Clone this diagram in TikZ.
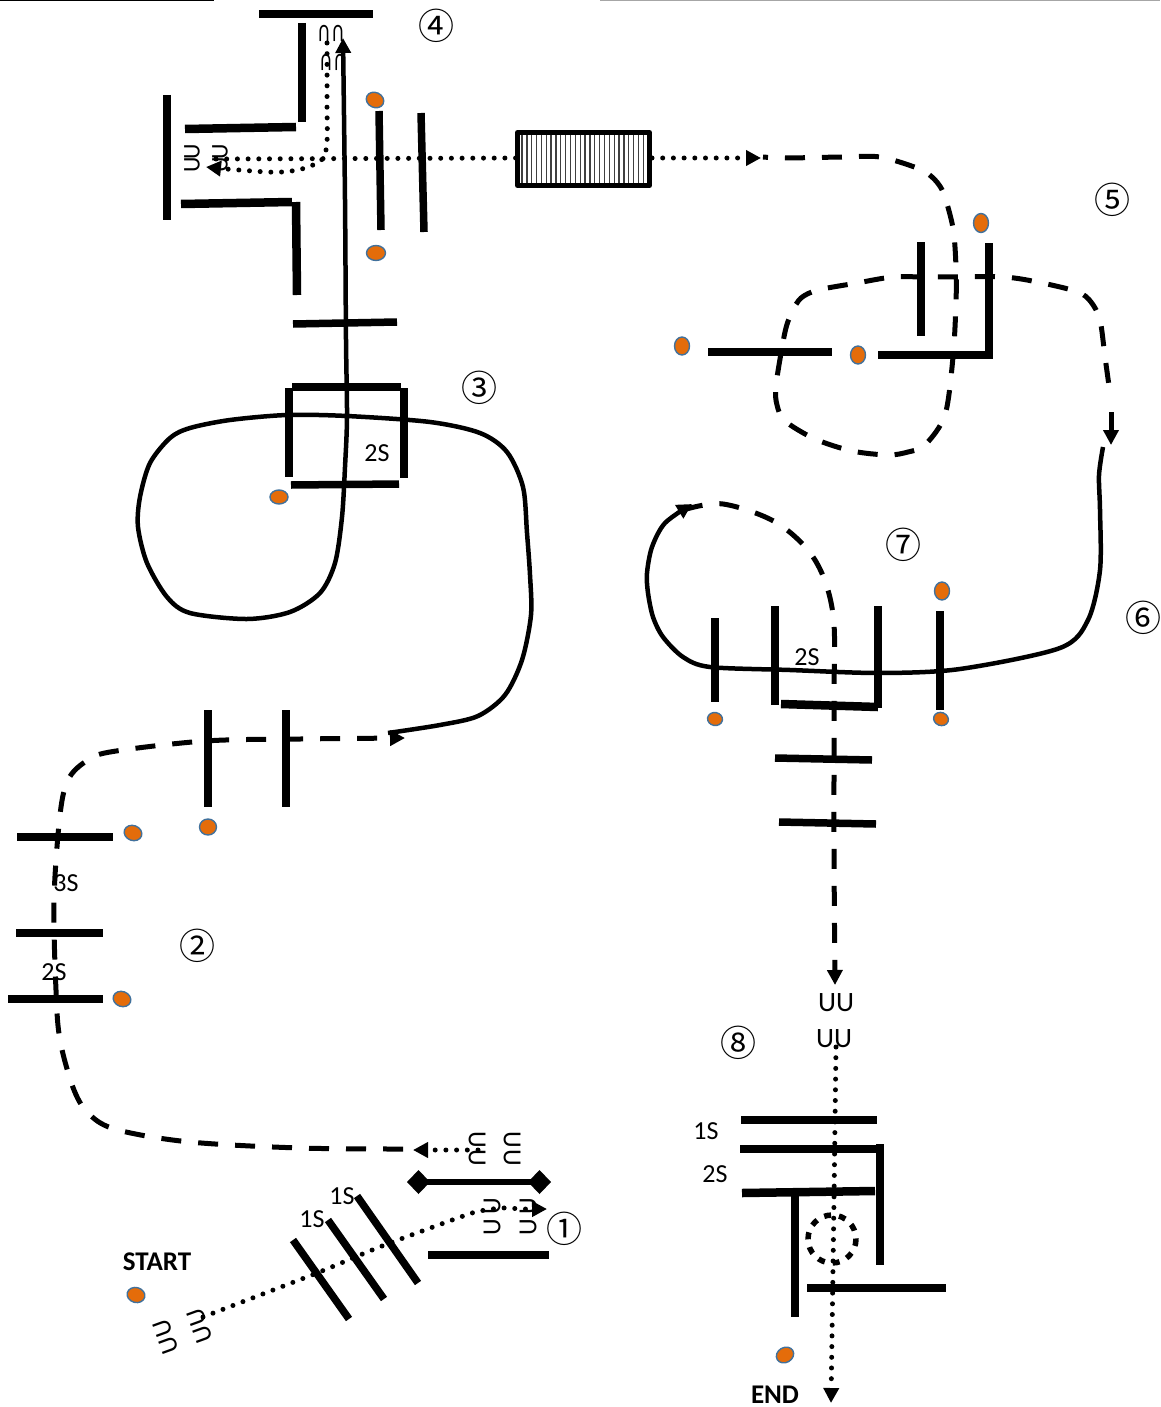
\documentclass[tikz,border=0pt]{standalone}
\usepackage{fontspec}
\setmainfont{Carlito}
\newfontfamily\circfont{Noto Sans CJK JP}
\usetikzlibrary{arrows.meta,shapes.geometric}
\tikzset{
  bar/.style={line width=7.5pt,line cap=butt},
  hbar/.style={line width=8.5pt,line cap=butt},
  solidpath/.style={line width=4.5pt},
  dashpath/.style={line width=5pt,dash pattern=on 20pt off 17pt},
  dotpath/.style={line width=5pt,line cap=round,dash pattern=on 0pt off 10.7pt},
  tip/.style={-{Triangle[length=15pt,width=15pt]}},
  dot/.style={ellipse,minimum width=18pt,minimum height=15pt,inner sep=0pt,fill=orange1,draw=blue1,line width=1.4pt},
  lab/.style={font=\fontsize{26}{26}\selectfont,inner sep=0pt},
  ulab/.style={font=\fontsize{28}{28}\selectfont,inner sep=0pt},
  blab/.style={font=\fontsize{27}{27}\selectfont\bfseries,inner sep=0pt},
  num/.style={font=\fontsize{36}{36}\selectfont\circfont,inner sep=0pt},
  uu/.style={font=\fontsize{26}{26}\selectfont,inner sep=0pt},
}
\definecolor{orange1}{HTML}{E46C0A}
\definecolor{blue1}{HTML}{41719C}
\begin{document}
\begin{tikzpicture}[x=1pt,y=-1pt]
\useasboundingbox (0,0) rectangle (1160,1407);
% top edge
\draw[line width=2pt] (0,0) -- (214,0);
\draw[line width=1.5pt,gray!70] (600,0) -- (1160,0);

% ===== labels =====
\node[num] (n1) at (564,1229) {①};
\node[num] (n2) at (197,946) {②};
\node[num] (n3) at (479,388) {③};
\node[num] (n4) at (436,26) {④};
\node[num] (n5) at (1112,200) {⑤};
\node[num] (n6) at (1143,618) {⑥};
\node[num] (n7) at (903,545) {⑦};
\node[num] (n8) at (738,1043) {⑧};
\node[blab] (start) at (157,1262) {START};
\node[blab] (end) at (775,1395) {END};
\node[lab] (s1a) at (342,1196) {1S};
\node[lab] (s1b) at (312,1219) {1S};
\node[lab] (s3) at (66,883) {3S};
\node[lab] (s2a) at (54,972) {2S};
\node[lab] (s2b) at (377,453) {2S};
\node[lab] (s2c) at (807,657) {2S};
\node[lab] (s1c) at (706,1131) {1S};
\node[lab] (s2d) at (715,1174) {2S};

% ===== U glyphs =====
\node[uu,rotate=110] (ua) at (163,1328) {U};
\node[uu,rotate=110] (ub) at (169,1345) {U};
\node[uu,rotate=110] (uc) at (197,1317) {U};
\node[uu,rotate=110] (ud) at (203,1334) {U};
\node[uu,rotate=90] (ue) at (492,1206) {U};
\node[uu,rotate=90] (uf) at (492,1227) {U};
\node[uu,rotate=90] (ug) at (528,1206) {U};
\node[uu,rotate=90] (uh) at (528,1227) {U};
\node[uu,rotate=-90] (ui) at (477,1140) {U};
\node[uu,rotate=-90] (uj) at (477,1158) {U};
\node[uu,rotate=-90] (uk) at (512,1140) {U};
\node[uu,rotate=-90] (ul) at (512,1158) {U};
\node[uu,rotate=90,font=\fontsize{24}{24}\selectfont] (um) at (192,152) {U};
\node[uu,rotate=90,font=\fontsize{24}{24}\selectfont] (un) at (192,165) {U};
\node[uu,rotate=90,font=\fontsize{24}{24}\selectfont] (uo) at (220,152) {U};
\node[uu,rotate=90,font=\fontsize{24}{24}\selectfont] (up) at (220,165) {U};
\node[uu,rotate=180,xscale=.7,font=\fontsize{25}{25}\selectfont] (uq) at (324,33) {U};
\node[uu,rotate=180,xscale=.7,font=\fontsize{25}{25}\selectfont] (ur) at (338,33) {U};
\node[uu,rotate=180,xscale=.7,font=\fontsize{25}{25}\selectfont] (us) at (326,62) {U};
\node[uu,rotate=180,xscale=.7,font=\fontsize{25}{25}\selectfont] (ut) at (340,62) {U};
\node[ulab] (uu1) at (836,1003) {UU};
\node[ulab] (uu2) at (834,1039) {UU};

% ===== orange dots =====
\node[dot,rotate=-15] (d1) at (136,1295) {};
\node[dot,rotate=-20] (d2) at (122,999) {};
\node[dot,rotate=-20] (d3) at (133,833) {};
\node[dot,minimum width=17pt,minimum height=16pt] (d4) at (208,827) {};
\node[dot,minimum width=18pt,minimum height=14pt] (d5) at (279,497) {};
\node[dot,minimum width=19pt,minimum height=15pt] (d6) at (376,253) {};
\node[dot,rotate=-25] (d7) at (375,100) {};
\node[dot,rotate=90,minimum width=19pt] (d8) at (981,223) {};
\node[dot,rotate=90] (d9) at (682,346) {};
\node[dot,rotate=90] (d10) at (858,355) {};
\node[dot,rotate=90] (d11) at (942,591) {};
\node[dot,minimum width=15pt,minimum height=13pt,rotate=-10] (d12) at (715,719) {};
\node[dot,minimum width=15pt,minimum height=13pt,rotate=-20] (d13) at (941,719) {};
\node[dot,rotate=30] (d14) at (785,1355) {};

% ===== connectors =====
% dotted 1 : start to 1
\draw[dotpath,tip] plot[smooth,tension=.3] coordinates {(203,1317) (317,1273) (382,1246) (472,1213) (502,1208) (523,1209) (547,1209)};
% dotted 1 back
\draw[dotpath,tip] (478,1150) -- (413,1150);
% dashed 2
\draw[dashpath,tip] plot[smooth,tension=.55] coordinates {(403,1149) (300,1148) (190,1142) (118,1130) (90,1115) (74,1090) (60,1040) (56,990) (54,900) (60,815) (68,780) (85,762) (110,752) (205,741) (300,739) (405,738)};
% solid long
\draw[solidpath,tip] plot[smooth,tension=.5] coordinates {(388,733) (440,725) (478,716) (505,695) (522,660) (531,615) (530,575) (527,533) (523,487) (507,452) (480,433) (430,422) (347,416) (287,415) (230,420) (190,428) (170,438) (150,463) (140,497) (138,527) (147,563) (167,597) (190,613) (247,619) (290,612) (320,593) (335,563) (342,517) (345,467) (347,417) (346,340) (345,200) (343,38)};
% dotted 4
\draw[dotpath] (216,159) -- (516,158);
\draw[dotpath,tip] (652,158) -- (761,158);
\draw[dotpath,tip] plot[smooth,tension=.6] coordinates {(327,43) (327,100) (326,150) (313,165) (282,172) (239,170) (206,167)};
% dashed 4 to 5
\draw[dashpath,dash phase=15pt] plot[smooth,tension=.5] coordinates {(763,157) (785,158) (843,157) (880,157) (917,168) (932,177) (943,192) (953,228) (956,267) (956,303) (953,357) (945,415) (925,445) (908,452) (888,455) (852,451) (815,439) (785,421) (777,405) (776,385) (785,332) (792,312) (801,298) (818,290) (857,283) (893,277) (930,277) (1003,277) (1042,283) (1078,292) (1091,302) (1100,320) (1105,357) (1110,393)};
\draw[line width=5pt,tip] (1111,412) -- (1111,445);
% solid 6-7
\draw[solidpath,tip] plot[smooth,tension=.5] coordinates {(1103,447) (1099,475) (1100,510) (1100,570) (1088,620) (1060,648) (960,669) (880,673) (790,670) (710,667) (683,657) (663,637) (653,617) (648,593) (647,573) (652,547) (665,523) (692,504)};
% dashed 7-8
\draw[dashpath,tip] plot[smooth,tension=.55] coordinates {(683,510) (723,504) (777,523) (815,560) (833,614) (834,700) (834,850) (835,985)};
% dotted 8
\draw[dotpath,tip] (836,1047) -- (834,1200) -- (831,1403);
% dotted circle
\draw[line width=5.5pt,dash pattern=on 7pt off 8pt] (832,1239) circle (24);

% ===== bars =====
% region 1
\draw[line width=6pt,{Diamond[length=23pt,width=24pt]}-{Diamond[length=23pt,width=24pt]}] (407,1182) -- (551,1182);
\draw[hbar] (428,1255) -- (549,1255);
\draw[bar] (293,1240) -- (349,1319);
\draw[bar] (328,1220) -- (384,1299);
\draw[bar] (357,1196) -- (418,1283);
% region 2
\draw[bar] (8,999) -- (103,999);
\draw[bar] (16,933) -- (103,933);
\draw[bar] (17,837) -- (113,837);
\draw[bar] (208,710) -- (208,807);
\draw[bar] (286,710) -- (286,807);
% region 3
\draw[hbar] (289,388) -- (289,477);
\draw[bar] (292,387) -- (401,387);
\draw[hbar] (404,388) -- (404,478);
\draw[bar] (291,485) -- (399,484);
\draw[bar] (293,324) -- (397,322);
% region 4
\draw[hbar] (259,14) -- (373,14);
\draw[hbar] (302,23) -- (302,122);
\draw[hbar] (185,129) -- (296,127);
\draw[hbar] (167,95) -- (167,220);
\draw[hbar] (181,204) -- (292,202);
\draw[hbar] (296,202) -- (297,295);
\draw[bar] (379,111) -- (381,230);
\draw[bar] (421,113) -- (424,232);
% filter box
\foreach \i in {0,...,26}{\draw[line width=1.3pt,black!75] ({522+\i*4.85},133) -- ({522+\i*4.85},185);}
\draw[line width=5pt,line join=round] (517.5,132.5) rectangle (649.5,185.5);
% region 5
\draw[bar] (921,242) -- (921,336);
\draw[hbar,line join=miter] (989,243) -- (989,355) -- (878,355);
\draw[bar] (708,352) -- (832,352);
% region 7
\draw[bar] (715,618) -- (715,702);
\draw[hbar] (775,606) -- (775,705);
\draw[hbar] (878,606) -- (878,708);
\draw[hbar] (781,704) -- (878,707);
\draw[hbar] (940,611) -- (940,710);
\draw[bar] (775,758) -- (872,760);
\draw[bar] (779,822) -- (876,824);
% region 8
\draw[hbar] (741,1120) -- (877,1120);
\draw[hbar] (740,1149) -- (876,1149);
\draw[hbar] (742,1193) -- (875,1191);
\draw[hbar] (880,1144) -- (880,1265);
\draw[hbar] (795,1195) -- (795,1317);
\draw[hbar] (807,1288) -- (946,1288);
\end{tikzpicture}
\end{document}
